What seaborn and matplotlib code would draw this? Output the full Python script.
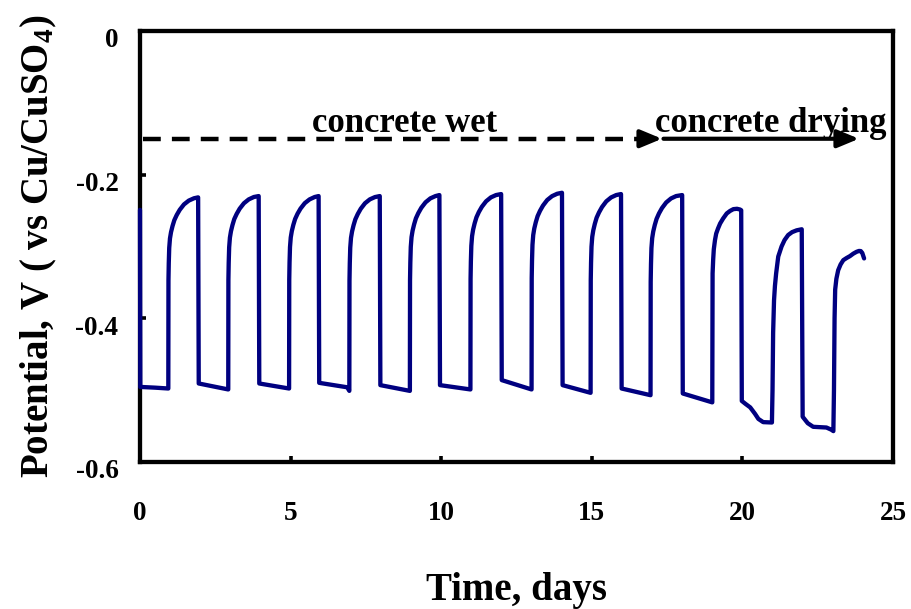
import matplotlib
matplotlib.use("Agg")
import matplotlib.pyplot as plt
import matplotlib.transforms as mtransforms
import seaborn as sns
import pandas as pd

# Half-cell potential of the embedded probe, logged over 24 days of wet/dry cycling
days = [
    0.00, 0.01, 0.50, 0.94,
    0.945, 0.955, 0.97, 0.995, 1.03, 1.08, 1.14, 1.22, 1.32, 1.46, 1.62, 1.79, 1.93, 1.95, 2.93,
    2.935, 2.945, 2.96, 2.985, 3.02, 3.07, 3.13, 3.21, 3.31, 3.45, 3.61, 3.78, 3.94, 3.96, 4.95,
    4.955, 4.965, 4.98, 5.005, 5.04, 5.09, 5.15, 5.23, 5.33, 5.47, 5.63, 5.80, 5.93, 5.95, 6.88, 6.95,
    6.955, 6.965, 6.98, 7.005, 7.04, 7.09, 7.15, 7.23, 7.33, 7.47, 7.63, 7.80, 7.96, 7.98, 8.96,
    8.965, 8.975, 8.99, 9.015, 9.05, 9.10, 9.16, 9.24, 9.34, 9.48, 9.64, 9.81, 9.94, 9.96, 10.97,
    10.975, 10.985, 11.00, 11.025, 11.06, 11.11, 11.17, 11.25, 11.35, 11.49, 11.65, 11.82, 11.99, 12.01, 13.00,
    13.005, 13.015, 13.03, 13.055, 13.09, 13.14, 13.20, 13.28, 13.38, 13.52, 13.68, 13.85, 14.01, 14.03, 14.96,
    14.965, 14.975, 14.99, 15.015, 15.05, 15.10, 15.16, 15.24, 15.34, 15.48, 15.64, 15.81, 15.97, 15.99, 16.95,
    16.955, 16.965, 16.98, 17.005, 17.04, 17.09, 17.15, 17.23, 17.33, 17.47, 17.63, 17.80, 18.00, 18.02, 19.00,
    19.01, 19.03, 19.05, 19.09, 19.13, 19.19, 19.26, 19.36, 19.48, 19.59, 19.70, 19.82, 19.92, 19.96,
    19.98, 20.10, 20.26, 20.42, 20.53, 20.69, 20.98,
    21.00, 21.02, 21.05, 21.08, 21.12, 21.19, 21.30, 21.40, 21.52, 21.65, 21.80, 21.97,
    22.00, 22.17, 22.35, 22.79, 22.95, 23.02,
    23.04, 23.06, 23.08, 23.12, 23.18, 23.26, 23.35, 23.46, 23.57, 23.68, 23.79, 23.87, 23.93, 23.98, 24.04,
]
potential = [
    -0.2490, -0.4955, -0.4965, -0.4977,
    -0.3471, -0.3234, -0.3021, -0.2888, -0.2800, -0.2715, -0.2633, -0.2561, -0.2489, -0.2414, -0.2361, -0.2329, -0.2316, -0.4907, -0.4990,
    -0.3466, -0.3227, -0.3011, -0.2877, -0.2788, -0.2702, -0.2618, -0.2546, -0.2473, -0.2398, -0.2344, -0.2311, -0.2298, -0.4907, -0.4977,
    -0.3461, -0.3222, -0.3008, -0.2874, -0.2786, -0.2700, -0.2617, -0.2544, -0.2472, -0.2397, -0.2344, -0.2311, -0.2298, -0.4898, -0.4960, -0.5010,
    -0.3475, -0.3234, -0.3017, -0.2881, -0.2792, -0.2705, -0.2621, -0.2548, -0.2474, -0.2398, -0.2344, -0.2312, -0.2298, -0.4930, -0.5010,
    -0.3467, -0.3224, -0.3006, -0.2870, -0.2780, -0.2693, -0.2608, -0.2535, -0.2461, -0.2385, -0.2330, -0.2298, -0.2284, -0.4930, -0.4990,
    -0.3450, -0.3208, -0.2991, -0.2855, -0.2765, -0.2678, -0.2594, -0.2520, -0.2447, -0.2371, -0.2316, -0.2284, -0.2270, -0.4860, -0.4990,
    -0.3440, -0.3197, -0.2978, -0.2841, -0.2750, -0.2663, -0.2578, -0.2504, -0.2430, -0.2353, -0.2299, -0.2266, -0.2252, -0.4930, -0.5037,
    -0.3471, -0.3225, -0.3003, -0.2865, -0.2774, -0.2685, -0.2599, -0.2525, -0.2450, -0.2372, -0.2317, -0.2284, -0.2270, -0.4977, -0.5070,
    -0.3493, -0.3245, -0.3022, -0.2883, -0.2791, -0.2702, -0.2616, -0.2540, -0.2465, -0.2387, -0.2331, -0.2298, -0.2284, -0.5046, -0.5170,
    -0.3375, -0.3180, -0.3040, -0.2910, -0.2820, -0.2750, -0.2680, -0.2610, -0.2540, -0.2505, -0.2480, -0.2475, -0.2485, -0.2495,
    -0.5150, -0.5190, -0.5240, -0.5330, -0.5400, -0.5445, -0.5450,
    -0.5000, -0.4200, -0.3750, -0.3550, -0.3375, -0.3140, -0.3000, -0.2910, -0.2840, -0.2800, -0.2775, -0.2760,
    -0.5370, -0.5460, -0.5510, -0.5520, -0.5550, -0.5570,
    -0.5000, -0.4000, -0.3600, -0.3450, -0.3330, -0.3250, -0.3190, -0.3160, -0.3134, -0.3100, -0.3074, -0.3062, -0.3064, -0.3090, -0.3166,
]

x_ticks = [0, 5, 10, 15, 20, 25]
x_tick_labels = ["0", "5", "10", "15", "20", "25"]
y_ticks = [-0.6, -0.4, -0.2, 0.0]
y_tick_labels = ["-0.6", "-0.4", "-0.2", "0"]

wet_span = [0.1, 17.33]
drying_span = [17.38, 23.87]
arrow_level = -0.15
phase_labels = ["concrete wet", "concrete drying"]
phase_label_x = [5.7, 17.11]
phase_label_y = -0.1403

df = pd.DataFrame({"days": days, "potential": potential})

sns.set_theme(style="white")
plt.rcParams["font.family"] = ["Liberation Serif", "DejaVu Serif"]
plt.rcParams["font.weight"] = "bold"
plt.rcParams["mathtext.fontset"] = "custom"
plt.rcParams["mathtext.rm"] = "Liberation Serif:bold"
plt.rcParams["mathtext.it"] = "Liberation Serif:bold"
plt.rcParams["mathtext.bf"] = "Liberation Serif:bold"
plt.rcParams["axes.unicode_minus"] = False

fig = plt.figure(figsize=(9.12, 6.09), dpi=100)
ax = fig.add_axes([0.15351, 0.24138, 0.82566, 0.70772])

sns.lineplot(data=df, x="days", y="potential", ax=ax, color="#000080",
             linewidth=3.1, estimator=None, sort=False, zorder=3, clip_on=False)
ax.lines[-1].set_solid_joinstyle("round")

ax.set_xlim(0, 25)
ax.set_ylim(-0.6, 0)
ax.set_xticks(x_ticks)
ax.set_xticklabels(x_tick_labels)
ax.set_yticks(y_ticks)
ax.set_yticklabels(y_tick_labels)

for side in ["left", "bottom", "top", "right"]:
    ax.spines[side].set_visible(True)
    ax.spines[side].set_color("black")
    ax.spines[side].set_linewidth(3.1)

ax.tick_params(axis="both", which="major", direction="in", length=4.5, width=2.6,
               color="black", labelsize=19.5, labelcolor="black",
               bottom=True, left=True, top=False, right=False)
ax.tick_params(axis="x", pad=28)
ax.tick_params(axis="y", pad=15.5)
for lab in ax.get_xticklabels() + ax.get_yticklabels():
    lab.set_fontweight("bold")

# nudge y tick labels slightly below their ticks
shift = mtransforms.ScaledTranslation(0, -5 / 72, fig.dpi_scale_trans)
for lab in ax.get_yticklabels():
    lab.set_transform(lab.get_transform() + shift)

ax.set_xlabel("Time, days", fontsize=28, fontweight="bold", color="black")
ax.set_ylabel("Potential, V ( vs Cu/CuSO$_4$)", fontsize=28, fontweight="bold", color="black")
ax.xaxis.set_label_coords(0.5, -0.255)
ax.yaxis.set_label_coords(-0.108, 0.5)

head = "-|>,head_length=0.65,head_width=0.27"
# wet phase: dashed line ending in an arrow head
ax.plot([wet_span[0], wet_span[1] - 0.5], [arrow_level, arrow_level], color="black",
        linewidth=3.2, linestyle=(0, (4.0, 2.5)), solid_capstyle="butt", dash_capstyle="butt")
ax.annotate("", xy=(wet_span[1], arrow_level), xytext=(wet_span[1] - 0.6, arrow_level),
            arrowprops=dict(arrowstyle=head, color="black", linewidth=3.0,
                            mutation_scale=20, shrinkA=0, shrinkB=0))
# drying phase: solid arrow
ax.annotate("", xy=(drying_span[1], arrow_level), xytext=(drying_span[0], arrow_level),
            arrowprops=dict(arrowstyle=head, color="black", linewidth=3.0,
                            mutation_scale=20, shrinkA=0, shrinkB=0))

for txt, tx in zip(phase_labels, phase_label_x):
    ax.text(tx, phase_label_y, txt, fontsize=25, fontweight="bold", color="black",
            ha="left", va="baseline")

fig.savefig("out.png", dpi=100, facecolor="white")
